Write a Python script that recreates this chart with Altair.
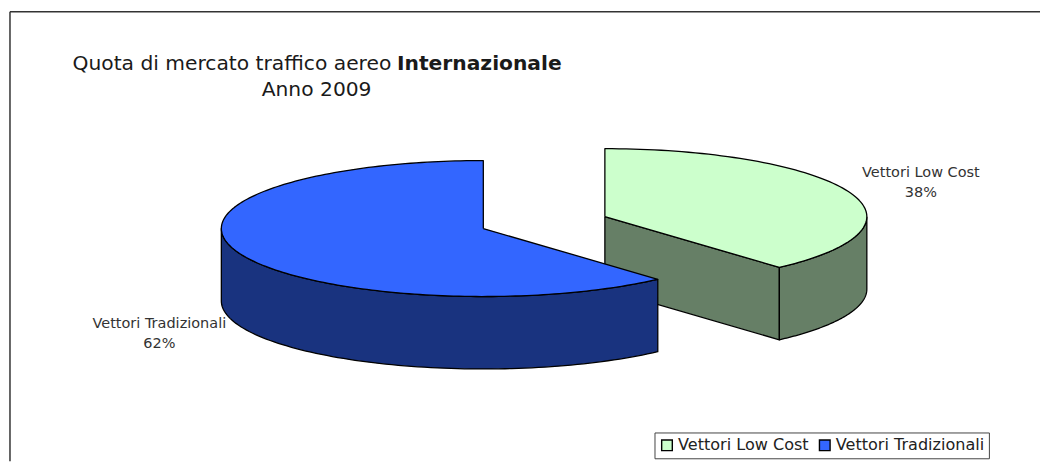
import numpy as np
import pandas as pd
import altair as alt

series = ["Vettori Low Cost", "Vettori Tradizionali"]
shares = [38.4, 61.6]
top_colors = ["#CCFFCC", "#3366FF"]
side_colors = ["#667F66", "#19337F"]
label_x = [928, 160.5]
label_y = [173, 325]

W, H = 1040, 455
RX, RY, CX, CY = 264.0, 68.5, 487.0, 228.5
DEPTH = 73 / RY
EXPLODE = (122.5 / RX, 12 / RY)

sx = alt.Scale(domain=[(8 - CX) / RX, (8 + W - CX) / RX], range=[0, W], nice=False, zero=False)
sy = alt.Scale(domain=[(CY - 8 - H) / RY, (CY - 8) / RY], range=[H, 0], nice=False, zero=False)


def arc(t0, t1, ox, oy, drop=0.0, n=90):
    t = np.radians(np.linspace(t0, t1, n))
    return np.c_[ox + np.sin(t), oy + np.cos(t) - drop]


def poly(points, name, color):
    pts = np.vstack([points, points[:1]])
    df = pd.DataFrame({"x": pts[:, 0], "y": pts[:, 1], "i": range(len(pts)), "series": name})
    return (
        alt.Chart(df)
        .mark_line(fill=color, stroke="black", strokeWidth=1.3, strokeJoin="round", interpolate="linear")
        .encode(
            x=alt.X("x:Q", scale=sx, axis=None),
            y=alt.Y("y:Q", scale=sy, axis=None),
            order="i:Q",
        )
    )


edge = shares[0] / sum(shares) * 360
gx, gy = EXPLODE
apex_g = np.array([[gx, gy]])
g_radial = np.vstack([apex_g, arc(edge, edge, gx, gy, n=1)])
g_face = np.vstack([g_radial, g_radial[::-1] - [0, DEPTH]])
g_wall = np.vstack([arc(90, edge, gx, gy), arc(edge, 90, gx, gy, DEPTH)])
g_top = np.vstack([apex_g, arc(0, edge, gx, gy)])
b_wall = np.vstack([arc(edge, 270, 0, 0), arc(270, edge, 0, 0, DEPTH)])
b_top = np.vstack([[[0, 0]], arc(edge, 360, 0, 0, n=180)])

layers = [
    poly(g_face, series[0], side_colors[0]),
    poly(g_wall, series[0], side_colors[0]),
    poly(g_top, series[0], top_colors[0]),
    poly(b_wall, series[1], side_colors[1]),
    poly(b_top, series[1], top_colors[1]),
]

# legend carrier: real legend from a colour scale
legend_df = pd.DataFrame({"series": series, "x": [0.0, 0.0], "y": [0.0, 0.0]})
legend_layer = (
    alt.Chart(legend_df)
    .mark_point(filled=True, opacity=0, size=1)
    .encode(
        x=alt.X("x:Q", scale=sx, axis=None),
        y=alt.Y("y:Q", scale=sy, axis=None),
        fill=alt.Fill(
            "series:N",
            scale=alt.Scale(domain=series, range=top_colors),
            legend=alt.Legend(
                title=None,
                orient="none",
                legendX=651.5,
                legendY=426,
                direction="horizontal",
                symbolType="square",
                symbolSize=115,
                symbolOpacity=1,
                symbolStrokeColor="black",
                symbolStrokeWidth=1.4,
                labelFont="DejaVu Sans",
                labelFontSize=16.2,
                labelColor="#222222",
                labelLimit=300,
                columnPadding=7,
                labelOffset=3,
                padding=4.5,
                strokeColor="#444444",
                fillColor="white",
            ),
        ),
    )
)

label_df = pd.DataFrame(
    {
        "text": [f"{s}\n{round(v)}%" for s, v in zip(series, shares)],
        "x": [(px - CX) / RX for px in label_x],
        "y": [(CY - py) / RY for py in label_y],
    }
)
labels = (
    alt.Chart(label_df)
    .mark_text(font="DejaVu Sans", fontSize=14.6, lineBreak="\n", lineHeight=20, color="#333333", align="center", baseline="middle")
    .encode(
        x=alt.X("x:Q", scale=sx, axis=None),
        y=alt.Y("y:Q", scale=sy, axis=None),
        text="text:N",
    )
)

title_parts = [
    ("Quota di mercato traffico aereo", 65, 60.5, "normal", "left"),
    ("Internazionale", 392, 60.5, "bold", "left"),
    ("Anno 2009", 311, 86.5, "normal", "center"),
]
title_layers = [
    alt.Chart(pd.DataFrame({"t": [t]}))
    .mark_text(font="DejaVu Sans", fontSize=20.4, fontWeight=w, align=a, baseline="alphabetic", color="#1a1a1a")
    .encode(x=alt.value(x), y=alt.value(y), text="t:N")
    for t, x, y, w, a in title_parts
]

frame_df = pd.DataFrame({"k": [0]})
frame = [
    alt.Chart(frame_df).mark_rule(color="#333333", strokeWidth=1.5).encode(x=alt.value(2), x2=alt.value(W), y=alt.value(2)),
    alt.Chart(frame_df).mark_rule(color="#333333", strokeWidth=1.5).encode(x=alt.value(2), y=alt.value(2), y2=alt.value(H)),
]

chart = (
    alt.layer(*frame, *layers, legend_layer, labels, *title_layers)
    .properties(width=W, height=H, padding=0, autosize=alt.AutoSizeParams(type="none"), background="white")
    .configure_view(stroke=None)
)

chart.save("out.html", embed_options={"renderer": "svg", "actions": False})
